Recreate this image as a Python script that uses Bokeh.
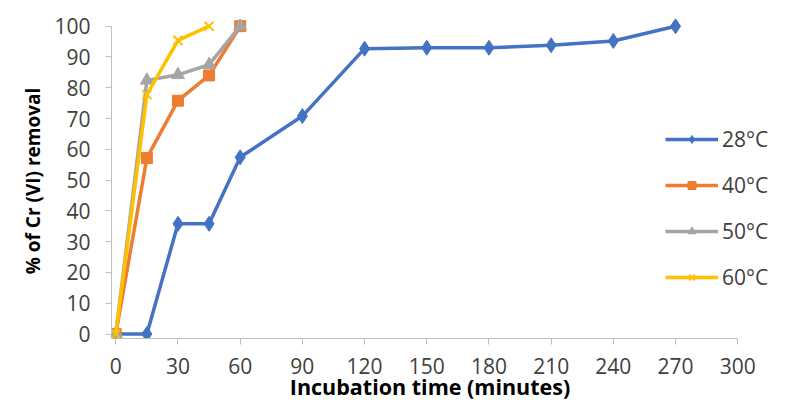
from bokeh.plotting import figure
from bokeh.models import Range1d, FixedTicker, Legend, LegendItem
from bokeh.embed import file_html
from bokeh.resources import INLINE

# ---- data ----
time_28 = [0, 15, 30, 45, 60, 90, 120, 150, 180, 210, 240, 270]
removal_28 = [0, 0, 35.8, 35.8, 57.4, 70.8, 92.7, 93.0, 93.0, 93.8, 95.2, 100]
time_40 = [0, 15, 30, 45, 60]
removal_40 = [0, 57.2, 75.8, 84.0, 100]
time_50 = [0, 15, 30, 45, 60]
removal_50 = [0, 82.4, 84.2, 87.5, 100]
time_60 = [0, 15, 30, 45]
removal_60 = [0, 77.8, 95.4, 100]
series_names = ["28°C", "40°C", "50°C", "60°C"]
x_ticks = [0, 30, 60, 90, 120, 150, 180, 210, 240, 270, 300]
y_ticks = [0, 10, 20, 30, 40, 50, 60, 70, 80, 90, 100]
x_title = "Incubation time (minutes)"
y_title = "% of Cr (VI) removal"

FONT = "Open Sans"
NBSP = "\u00a0"

p = figure(width=787, height=410,
           x_range=Range1d(-2.07, 318.7), y_range=Range1d(-1.46, 102.5),
           output_backend="svg", toolbar_location=None,
           min_border_left=111, min_border_right=11,
           min_border_top=18, min_border_bottom=72)
p.grid.visible = False
p.outline_line_color = None
p.background_fill_color = "white"
p.border_fill_color = "white"

colors = ["#4472C4", "#ED7D31", "#A5A5A5", "#FFC000"]
data = [(time_28, removal_28), (time_40, removal_40),
        (time_50, removal_50), (time_60, removal_60)]

items = []
for i, (xs, ys) in enumerate(data):
    ln = p.line(xs, ys, line_color=colors[i], line_width=3.5)
    if i == 0:
        sc = p.scatter(xs, ys, marker="diamond", size=15,
                       fill_color=colors[i], line_color=colors[i])
    elif i == 1:
        sc = p.scatter(xs, ys, marker="square", size=11,
                       fill_color=colors[i], line_color=colors[i])
    elif i == 2:
        sc = p.scatter(xs, ys, marker="triangle", size=13,
                       fill_color=colors[i], line_color=colors[i])
    else:
        sc = p.scatter(xs, ys, marker="x", size=13,
                       line_color=colors[i], line_width=2)
    items.append(LegendItem(label=series_names[i], renderers=[ln, sc]))

legend = Legend(items=items, location=(554, 47))
legend.background_fill_alpha = 0
legend.border_line_color = None
legend.padding = 0
legend.margin = 0
legend.spacing = 18
legend.glyph_width = 53
legend.glyph_height = 20
legend.label_height = 20
legend.label_standoff = 4
legend.label_text_font = FONT
legend.label_text_font_size = "21px"
legend.label_text_color = "#404040"
p.add_layout(legend)

for ax in (p.xaxis, p.yaxis):
    ax.axis_line_color = "#BFBFBF"
    ax.major_tick_line_color = "#BFBFBF"
    ax.minor_tick_line_color = None
    ax.major_tick_in = 0
    ax.major_tick_out = 6
    ax.major_label_text_font = FONT
    ax.major_label_text_font_size = "21px"
    ax.major_label_text_color = "#404040"
    ax.axis_label_text_font = FONT
    ax.axis_label_text_font_style = "bold"
    ax.axis_label_text_color = "#000000"

p.xaxis.axis_label_text_font_size = "21.5px"
p.yaxis.axis_label_text_font_size = "19px"
p.xaxis.bounds = (0, 300)
p.yaxis.bounds = (0, 100)
p.xaxis.ticker = FixedTicker(ticks=x_ticks)
p.yaxis.ticker = FixedTicker(ticks=y_ticks)
# trailing no-break spaces nudge the centred titles to sit under the axis span
p.xaxis.axis_label = x_title + NBSP * 5
p.yaxis.axis_label = y_title + NBSP
p.xaxis.major_label_standoff = 13
p.xaxis.axis_label_standoff = -5
p.yaxis.major_label_standoff = 15
p.yaxis.axis_label_standoff = 5

open("out.html", "w").write(file_html(p, INLINE))
